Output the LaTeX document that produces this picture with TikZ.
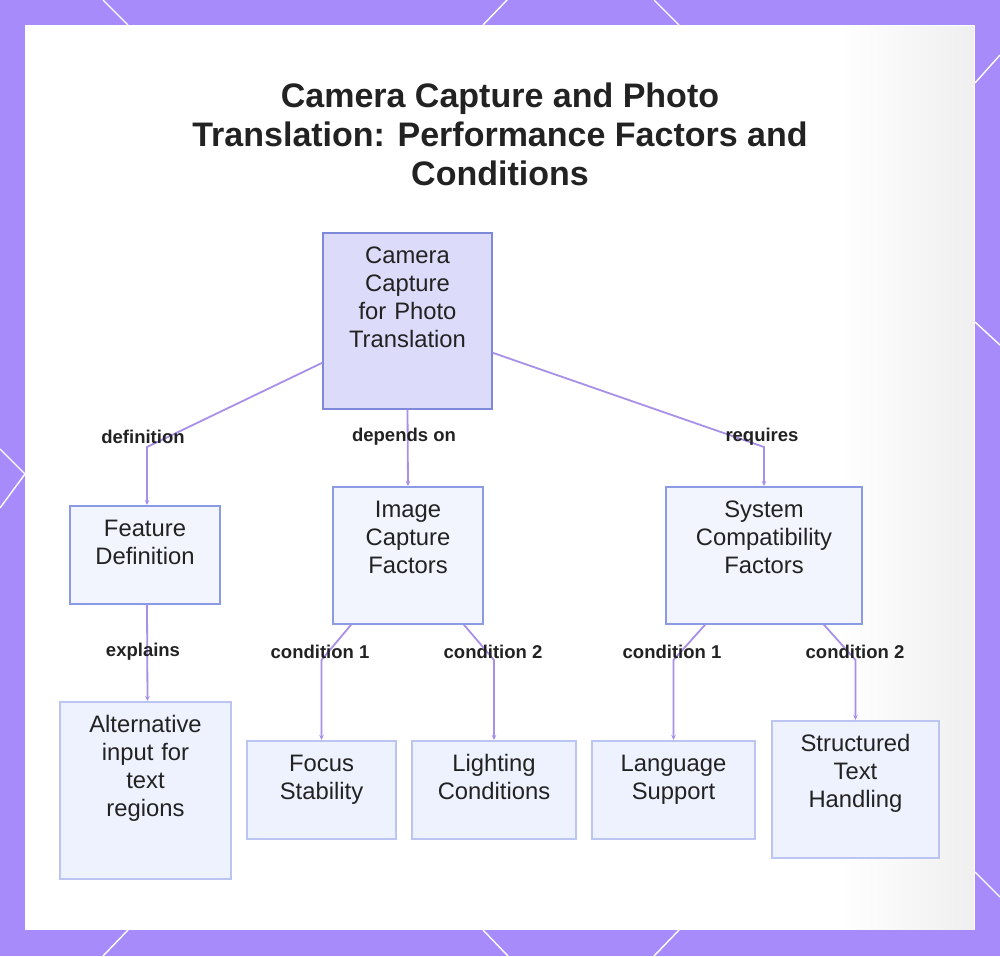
\documentclass[tikz,border=0pt]{standalone}
\usepackage{fontspec}
\setmainfont{Liberation Sans}
\usepackage{tikz}
\usetikzlibrary{positioning,arrows.meta}
\definecolor{bgpurple}{HTML}{A78BFA}
\definecolor{edgepurple}{HTML}{A890E8}
\definecolor{inktext}{HTML}{222222}
\definecolor{rootfill}{HTML}{DCDCFA}
\definecolor{rootline}{HTML}{7E89DA}
\definecolor{midfill}{HTML}{F3F5FE}
\definecolor{midline}{HTML}{8A9BE3}
\definecolor{leaffill}{HTML}{EEF2FE}
\definecolor{leafline}{HTML}{BAC5F2}
\definecolor{haze}{HTML}{EFEFEF}

\begin{document}
\begin{tikzpicture}[x=1pt,y=-1pt,
		box/.style={draw, line width=1.6pt, anchor=north, inner xsep=4pt, inner ysep=0pt,
			align=center, text=inktext, text height=31pt, text depth=#1,
			font=\fontsize{23.8}{28}\selectfont},
		rootbox/.style={box=#1, fill=rootfill, draw=rootline},
		midbox/.style={box=#1, fill=midfill, draw=midline},
		leafbox/.style={box=#1, fill=leaffill, draw=leafline},
		lbl/.style={text=inktext, inner sep=0pt, font=\fontsize{18.5}{22}\selectfont\bfseries},
		link/.style={draw=edgepurple, line width=1.8pt, -{Stealth[length=5pt,width=4.5pt]}},
		rim/.style={draw=white, line width=1.4pt}]
		\useasboundingbox (0,0) rectangle (1000,956);
		\fill [bgpurple] (0,0) rectangle (1000,956);
		\draw [rim] (103,0) -- (128,25);
		\draw [rim] (507,0) -- (483,25);
		\draw [rim] (654,0) -- (679,25);
		\draw [rim] (1000,55) -- (975,83);
		\draw [rim] (975,322) -- (1000,345);
		\draw [rim] (0,449) -- (25,474) -- (0,508);
		\draw [rim] (975,872) -- (1000,897);
		\draw [rim] (128,930) -- (103,956);
		\draw [rim] (483,930) -- (508,956);
		\draw [rim] (679,930) -- (654,956);
		\fill [white] (25,25) rectangle (975,930);
		\shade [left color=white, right color=haze] (840,26) rectangle (974,929);

		\node [text=inktext, align=center, font=\fontsize{34}{39}\selectfont\bfseries] (title) at (500,134)
			{Camera Capture and Photo\\Translation: Performance Factors and\\Conditions};

		\node [rootbox=145pt, text width=161pt] (root) at (407.5,232) {Camera\\Capture\\for Photo\\Translation};
		\node [midbox=67pt, text width=142pt] (feat) at (145,505) {Feature\\Definition};
		\node [midbox=106pt, text width=142pt] (img) at (408,486) {Image\\Capture\\Factors};
		\node [midbox=106pt, text width=188pt] (sys) at (764,486) {System\\Compatibility\\Factors};
		\node [leafbox=146pt, text width=163pt] (alt) at (145.5,701) {Alternative\\input for\\text\\regions};
		\node [leafbox=67pt, text width=141pt] (focus) at (321.5,740) {Focus\\Stability};
		\node [leafbox=67pt, text width=156pt] (light) at (494,740) {Lighting\\Conditions};
		\node [leafbox=67pt, text width=155pt] (lang) at (673.5,740) {Language\\Support};
		\node [leafbox=106pt, text width=159pt] (struct) at (855.5,720) {Structured\\Text\\Handling};

		\draw [link] ([yshift=-42pt]root.west) -- ([xshift=2pt,yshift=58pt]feat.north) -- ([xshift=2pt]feat.north);
		\draw [link] (root.south) -- (img.north);
		\draw [link] ([yshift=-32pt]root.east) -- ([yshift=39pt]sys.north) -- (sys.north);
		\draw [link] ([xshift=2pt]feat.south) -- ([xshift=2pt]alt.north);
		\draw [link] ([xshift=19pt]img.south west) -- ([yshift=80pt]focus.north) -- (focus.north);
		\draw [link] ([xshift=-20pt]img.south east) -- ([yshift=80pt]light.north) -- (light.north);
		\draw [link] ([xshift=40pt]sys.south west) -- ([yshift=80pt]lang.north) -- (lang.north);
		\draw [link] ([xshift=-39pt]sys.south east) -- ([yshift=60pt]struct.north) -- (struct.north);

		\node [lbl] (defn) at (143,437) {definition};
		\node [lbl] (dep) at (404,437) {depends on};
		\node [lbl] (req) at (762,437) {requires};
		\node [lbl] (expl) at (143,652) {explains};
		\node [lbl] (cfa) at (320,652) {condition 1};
		\node [lbl] (cfb) at (493,652) {condition 2};
		\node [lbl] (csa) at (672,652) {condition 1};
		\node [lbl] (csb) at (855,652) {condition 2};
\end{tikzpicture}
\end{document}
